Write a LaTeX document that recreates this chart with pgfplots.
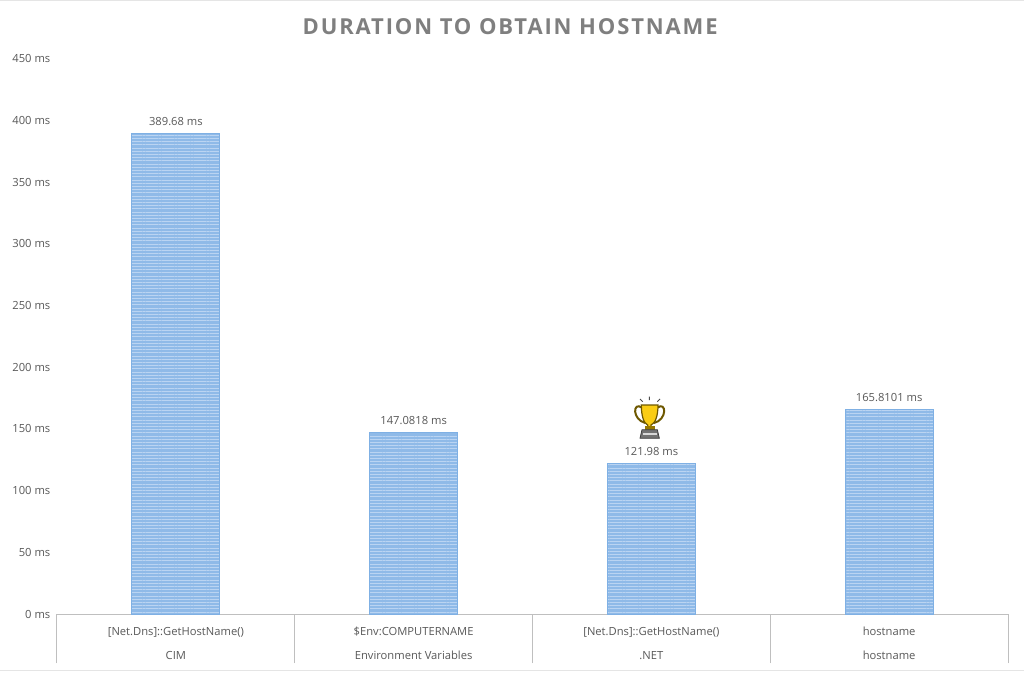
\documentclass[border=0pt]{standalone}
\usepackage{fontspec}
\setmainfont{Open Sans}
\newfontfamily\titlefont[LetterSpace=8.5]{Open Sans}
\usepackage{pgfplots}
\pgfplotsset{compat=1.18}
\usetikzlibrary{patterns.meta}
\definecolor{txt}{HTML}{595959}
\definecolor{ttl}{HTML}{7F7F7F}
\definecolor{axl}{HTML}{BFBFBF}
\definecolor{barb}{HTML}{7FB0E4}
\definecolor{barf}{HTML}{8FBAE8}
\definecolor{bars}{HTML}{BAD4F2}
\definecolor{gold}{HTML}{FACD14}
\definecolor{dgold}{HTML}{6E5800}
\definecolor{mgold}{HTML}{967800}
\begin{document}
\begin{tikzpicture}
\useasboundingbox (0,0) rectangle (768pt,-504.75pt);
\fill[white] (0,0) rectangle (768pt,-504.75pt);
\draw[color=black!10,line width=.75pt] (0,-.75pt) -- (768pt,-.75pt);
\draw[color=black!10,line width=.75pt] (0,-502.5pt) -- (768pt,-502.5pt);
\node[font=\titlefont\bfseries\fontsize{16.5}{20}\selectfont,text=ttl] at (382.6pt,-20.2pt) {DURATION TO OBTAIN HOSTNAME};
\begin{axis}[
  at={(42.75pt,-460.5pt)},anchor=origin,
  scale only axis,width=713.25pt,height=416.5pt,
  xmin=0,xmax=4,ymin=0,ymax=450,
  axis x line*=bottom,axis y line*=left,
  axis line style={-,draw=axl,line width=.75pt},
  y axis line style={draw=none},
  ytick={0,50,...,450},
  yticklabels={0 ms,50 ms,100 ms,150 ms,200 ms,250 ms,300 ms,350 ms,400 ms,450 ms},
  y tick style={draw=none},
  y tick label style={font=\fontsize{8.4}{10}\selectfont,text=txt},
  yticklabel style={xshift=-1.5pt},
  xtick={0.5,1.5,2.5,3.5},
  xticklabels={{\strut[Net.Dns]::GetHostName()\\[8pt]\strut CIM},{\strut\$Env:COMPUTERNAME\\[8pt]\strut Environment Variables},{\strut[Net.Dns]::GetHostName()\\[8pt]\strut .NET},{\strut hostname\\[8pt]\strut hostname}},
  x tick label style={font=\fontsize{8.4}{10}\selectfont,text=txt,align=center,yshift=-1.1pt},
  major x tick style={draw=none},
  minor xtick={0,1,2,3,4},
  xtick align=outside,
  minor tick length=36.75pt,
  minor x tick style={draw=axl,line width=.75pt},
  ybar,bar width=66pt,
  nodes near coords,point meta=explicit symbolic,
  nodes near coords style={font=\fontsize{8.4}{10}\selectfont,text=txt,yshift=2.2pt},
  clip=false,
]
\addplot[draw=barb,line width=.75pt,fill=barf,postaction={pattern={Lines[angle=0,distance=2.4pt,line width=.75pt]},pattern color=bars}] coordinates {
 (0.5,389.68)[389.68 ms]
 (1.5,147.0818)[147.0818 ms]
 (2.5,121.98)[121.98 ms]
 (3.5,165.8101)[165.8101 ms]};
\end{axis}
\begin{scope}[shift={(435pt,-288.75pt)},x=.25pt,y=-.25pt]
 \draw[black!70,line width=.7pt] (180,42)--(188,50) (208,35)--(208,45) (240,42)--(232,50);
 \draw[color=dgold,line width=1.5pt] (186,68) .. controls (158,48) and (156,104) .. (196,114);
 \draw[color=dgold,line width=1.5pt] (232,68) .. controls (260,48) and (262,104) .. (222,114);
 \filldraw[fill=gold,draw=dgold,line width=.9pt] (184,60) -- (234,60) .. controls (234,95) and (225,115) .. (213,120) -- (213,130) -- (203,130) -- (203,120) .. controls (192,115) and (184,95) .. (184,60) -- cycle;
 \fill[mgold] (194,124) rectangle (224,134);
 \filldraw[fill=black!55,draw=black!75,line width=.6pt] (186,134) -- (232,134) -- (238,160) -- (180,160) -- cycle;
 \fill[black!15] (188,144) rectangle (230,150);
\end{scope}
\end{tikzpicture}
\end{document}
